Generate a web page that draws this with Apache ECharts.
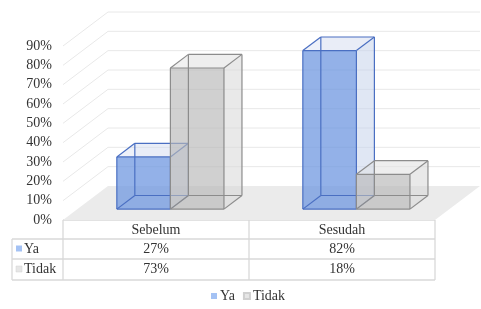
<!DOCTYPE html>
<html>
<head>
<meta charset="utf-8">
<script src="https://cdn.jsdelivr.net/npm/echarts@6/dist/echarts.min.js"></script>
<style>
  html, body { margin: 0; padding: 0; background: #fff; }
  #chart { width: 481px; height: 309px; }
</style>
</head>
<body>
<div id="chart"></div>
<script>
// data
const categories = ['Sebelum', 'Sesudah']
const yaValues = [27, 82]
const tidakValues = [73, 18]
const yTicks = [0, 10, 20, 30, 40, 50, 60, 70, 80, 90]

const FONT = '"Liberation Serif", "Times New Roman", serif'
const TEXT = '#333333'
const FS = 14
const DEPTH = [45, -34]       // floor depth in px
const BAR_START = 0.32        // bar front position inside the floor depth
const BAR_DEPTH = 0.4
const BAR_W = 0.288           // bar width as share of the category band

const GRID = { left: 63, right: 46, top: 46, bottom: 89 }

const blue = {
  front: 'rgba(112,152,224,0.75)',
  side: 'rgba(195,208,235,0.45)',
  top: 'rgba(205,215,238,0.35)',
  back: 'rgba(200,212,238,0.12)',
  line: '#4a6fc2',
  marker: '#a4c2f4'
}
const grey = {
  front: 'rgba(185,185,185,0.65)',
  side: 'rgba(215,215,215,0.5)',
  top: 'rgba(225,225,225,0.45)',
  back: 'rgba(220,220,220,0.12)',
  line: '#8c8c8c',
  marker: '#e6e6e6'
}

const chart = echarts.init(document.getElementById('chart'))

// 3D cuboid
function barRenderer(side, col) {
  return function (params, api) {
    const base = api.coord([api.value(0), 0])
    const top = api.coord([api.value(0), api.value(1)])
    const w = api.size([1, 0])[0] * BAR_W
    const ox = DEPTH[0] * BAR_START, oy = DEPTH[1] * BAR_START
    const dx = DEPTH[0] * BAR_DEPTH, dy = DEPTH[1] * BAR_DEPTH
    const x0 = base[0] + (side < 0 ? -w : 0) + ox
    const x1 = x0 + w
    const yb = base[1] + oy
    const yt = top[1] + oy

    const poly = (pts, fill) => ({ type: 'polygon', shape: { points: pts }, style: { fill: fill, stroke: null }, silent: true })
    const line = (a, b) => ({ type: 'line', shape: { x1: a[0], y1: a[1], x2: b[0], y2: b[1] }, style: { stroke: col.line, lineWidth: 1.2 }, silent: true })

    const F = [[x0, yt], [x1, yt], [x1, yb], [x0, yb]]
    const B = F.map(p => [p[0] + dx, p[1] + dy])

    const children = [
      poly(B, col.back),
      poly([F[1], B[1], B[2], F[2]], col.side),
      poly([F[0], B[0], B[1], F[1]], col.top),
      poly(F, col.front)
    ]
    for (let i = 0; i < 4; i++) {
      children.push(line(F[i], F[(i + 1) % 4]))
      children.push(line(B[i], B[(i + 1) % 4]))
      children.push(line(F[i], B[i]))
    }
    return { type: 'group', children: children }
  }
}

// floor and gridlines in perspective
function wallRenderer(params, api) {
  const v = api.value(1)
  const band = api.size([1, 0])[0]
  const l = api.coord([0, v])
  const r = api.coord([categories.length - 1, v])
  const xl = l[0] - band / 2
  const xr = r[0] + band / 2
  const y = l[1]
  if (v === 0) {
    return {
      type: 'polygon',
      shape: { points: [[xl, y], [xl + DEPTH[0], y + DEPTH[1]], [xr + DEPTH[0], y + DEPTH[1]], [xr, y]] },
      style: { fill: '#ebebeb' },
      silent: true
    }
  }
  return {
    type: 'polyline',
    shape: { points: [[xl, y], [xl + DEPTH[0], y + DEPTH[1]], [xr + DEPTH[0], y + DEPTH[1]]] },
    style: { stroke: '#e8e8e8', lineWidth: 1, fill: null },
    silent: true
  }
}

// data table under the chart
function buildTable() {
  const gl = GRID.left
  const gr = 481 - GRID.right
  const colW = (gr - gl) / categories.length
  const labelL = 12
  const rows = [220, 239, 259, 280]
  const els = []
  const ln = (x1, y1, x2, y2) => els.push({ type: 'line', shape: { x1, y1, x2, y2 }, style: { stroke: '#d9d9d9', lineWidth: 1.3 }, silent: true })
  const txt = (x, y, s, align) => els.push({ type: 'text', x: x, y: y, style: { text: s, font: FS + 'px ' + FONT, fill: TEXT, align: align || 'center', verticalAlign: 'middle' }, silent: true })

  ln(gl, rows[0], gl, rows[3])
  for (let i = 1; i <= categories.length; i++) ln(gl + colW * i, rows[0], gl + colW * i, rows[3])
  ln(labelL, rows[1], labelL, rows[3])
  ln(gl, rows[0], gr, rows[0])
  ln(labelL, rows[1], gr, rows[1])
  ln(labelL, rows[2], gr, rows[2])
  ln(labelL, rows[3], gr, rows[3])

  categories.forEach((c, i) => txt(gl + colW * (i + 0.5), (rows[0] + rows[1]) / 2 + 1, c))
  const series = [['Ya', yaValues, blue], ['Tidak', tidakValues, grey]]
  series.forEach((s, r) => {
    const cy = (rows[r + 1] + rows[r + 2]) / 2
    els.push({ type: 'rect', shape: { x: 16, y: cy - 3.5, width: 6, height: 6 }, style: { fill: s[2].marker, stroke: s[2] === blue ? null : '#d0d0d0', lineWidth: 0.5 }, silent: true })
    txt(24, cy, s[0], 'left')
    s[1].forEach((v, i) => txt(gl + colW * (i + 0.5), cy, v + '%'))
  })
  return els
}

chart.setOption({
  animation: false,
  grid: GRID,
  xAxis: {
    type: 'category',
    data: categories,
    axisLine: { show: false },
    axisTick: { show: false },
    axisLabel: { show: false },
    splitLine: { show: false }
  },
  yAxis: {
    type: 'value',
    min: 0,
    max: 90,
    interval: 10,
    axisLine: { show: false },
    axisTick: { show: false },
    splitLine: { show: false },
    axisLabel: {
      formatter: '{value}%',
      margin: 11,
      color: TEXT,
      fontFamily: FONT,
      fontSize: FS
    }
  },
  legend: {
    data: ['Ya', 'Tidak'],
    bottom: 1,
    left: 206,
    icon: 'rect',
    itemWidth: 6,
    itemHeight: 6,
    itemGap: 8,
    textStyle: { color: TEXT, fontFamily: FONT, fontSize: FS, padding: [0, 0, 0, -2] }
  },
  series: [
    {
      type: 'custom',
      name: 'walls',
      renderItem: wallRenderer,
      encode: { x: 0, y: 1 },
      data: yTicks.map(v => [0, v]),
      z: 1
    },
    {
      type: 'custom',
      name: 'Ya',
      renderItem: barRenderer(-1, blue),
      itemStyle: { color: blue.marker },
      encode: { x: 0, y: 1 },
      data: yaValues.map((v, i) => [i, v]),
      z: 2
    },
    {
      type: 'custom',
      name: 'Tidak',
      renderItem: barRenderer(1, grey),
      itemStyle: { color: grey.marker, borderColor: '#d0d0d0', borderWidth: 0.5 },
      encode: { x: 0, y: 1 },
      data: tidakValues.map((v, i) => [i, v]),
      z: 3
    }
  ],
  graphic: buildTable()
})
</script>
</body>
</html>
